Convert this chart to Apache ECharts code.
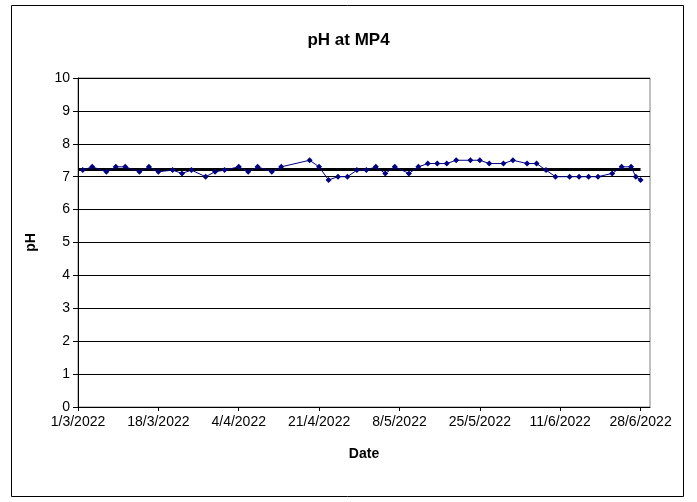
<!DOCTYPE html>
<html>
<head>
<meta charset="utf-8">
<script src="https://cdn.jsdelivr.net/npm/echarts@6/dist/echarts.min.js"></script>
<style>
html,body{margin:0;padding:0;background:#fff;}
#chart{width:697px;height:502px;}
</style>
</head>
<body>
<div id="chart"></div>
<script>
// ---- data ----
var startDate = '2022-03-01';
var sampleDates = [
  '2022-03-02','2022-03-04','2022-03-07','2022-03-09','2022-03-11','2022-03-14','2022-03-16','2022-03-18',
  '2022-03-21','2022-03-23','2022-03-25','2022-03-28','2022-03-30','2022-04-01','2022-04-04','2022-04-06',
  '2022-04-08','2022-04-11','2022-04-13','2022-04-19','2022-04-21','2022-04-23','2022-04-25','2022-04-27',
  '2022-04-29','2022-05-01','2022-05-03','2022-05-05','2022-05-07','2022-05-10','2022-05-12','2022-05-14',
  '2022-05-16','2022-05-18','2022-05-20','2022-05-23','2022-05-25','2022-05-27','2022-05-30','2022-06-01',
  '2022-06-04','2022-06-06','2022-06-08','2022-06-10','2022-06-13','2022-06-15','2022-06-17','2022-06-19',
  '2022-06-22','2022-06-24','2022-06-26','2022-06-27','2022-06-28'
];
var phValues = [
  7.2,7.3,7.15,7.3,7.3,7.15,7.3,7.15,
  7.2,7.1,7.2,7.0,7.15,7.2,7.3,7.15,
  7.3,7.15,7.3,7.5,7.3,6.9,7.0,7.0,
  7.2,7.2,7.3,7.1,7.3,7.1,7.3,7.4,
  7.4,7.4,7.5,7.5,7.5,7.4,7.4,7.5,
  7.4,7.4,7.2,7.0,7.0,7.0,7.0,7.0,
  7.1,7.3,7.3,7.0,6.9
];
var meanDates = ['2022-03-01','2022-06-28'];
var meanValues = [7.22, 7.22];
var xTickLabels = ['1/3/2022','18/3/2022','4/4/2022','21/4/2022','8/5/2022','25/5/2022','11/6/2022','28/6/2022'];
var yTickLabels = ['0','1','2','3','4','5','6','7','8','9','10'];

// ---- helpers ----
function dayOffset(s){
  var p = s.split('-');
  var base = startDate.split('-');
  var a = Date.UTC(+p[0], +p[1]-1, +p[2]);
  var b = Date.UTC(+base[0], +base[1]-1, +base[2]);
  return Math.round((a-b)/86400000);
}
var tickStep = 17;
var phData = sampleDates.map(function(d,i){ return [dayOffset(d), phValues[i]]; });
var meanData = meanDates.map(function(d,i){ return [dayOffset(d), meanValues[i]]; });

var font = 'Arial, "Liberation Sans", sans-serif';
var chart = echarts.init(document.getElementById('chart'));
chart.setOption({
  animation: false,
  backgroundColor: '#fff',
  title: {
    text: 'pH at MP4', left: 'center', top: 27,
    textStyle: {fontFamily: font, fontSize: 17, fontWeight: 'bold', color: '#000'}
  },
  graphic: [{
    type: 'rect', silent: true, z: -1,
    shape: {x: 11.5, y: 5.5, width: 672, height: 491},
    style: {fill: 'none', stroke: '#000', lineWidth: 1}
  }],
  grid: {left: 78, right: 47, top: 78, bottom: 95, show: true, borderColor: '#808080', borderWidth: 1},
  xAxis: {
    type: 'value', min: 0, max: 121, interval: tickStep,
    name: 'Date', nameLocation: 'middle', nameGap: 40,
    nameTextStyle: {fontFamily: font, fontSize: 14, fontWeight: 'bold', color: '#000'},
    axisLine: {show: true, lineStyle: {color: '#000', width: 1}},
    axisTick: {show: true, length: 4, lineStyle: {color: '#000'}},
    splitLine: {show: false},
    axisLabel: {
      fontFamily: font, fontSize: 14, color: '#000', margin: 8, showMaxLabel: false,
      formatter: function(v){ var k = Math.round(v / tickStep); return (v % tickStep === 0 && xTickLabels[k]) ? xTickLabels[k] : ''; }
    }
  },
  yAxis: {
    type: 'value', min: 0, max: 10, interval: 1,
    name: 'pH', nameLocation: 'middle', nameGap: 40, nameRotate: 90,
    nameTextStyle: {fontFamily: font, fontSize: 14, fontWeight: 'bold', color: '#000'},
    axisLine: {show: true, lineStyle: {color: '#000', width: 1}},
    axisTick: {show: true, length: 5, lineStyle: {color: '#000'}},
    splitLine: {show: true, lineStyle: {color: '#000', width: 1}},
    axisLabel: {
      fontFamily: font, fontSize: 14, color: '#000', margin: 8,
      formatter: function(v){ return yTickLabels[v] !== undefined ? yTickLabels[v] : ''; }
    }
  },
  series: [
    {
      type: 'line', data: meanData, symbol: 'none', z: 3,
      lineStyle: {color: '#000', width: 3}
    },
    {
      type: 'line', data: phData, symbol: 'diamond', symbolSize: 6, z: 4,
      lineStyle: {color: '#000080', width: 1},
      itemStyle: {color: '#000080'}
    }
  ]
});
</script>
</body>
</html>
